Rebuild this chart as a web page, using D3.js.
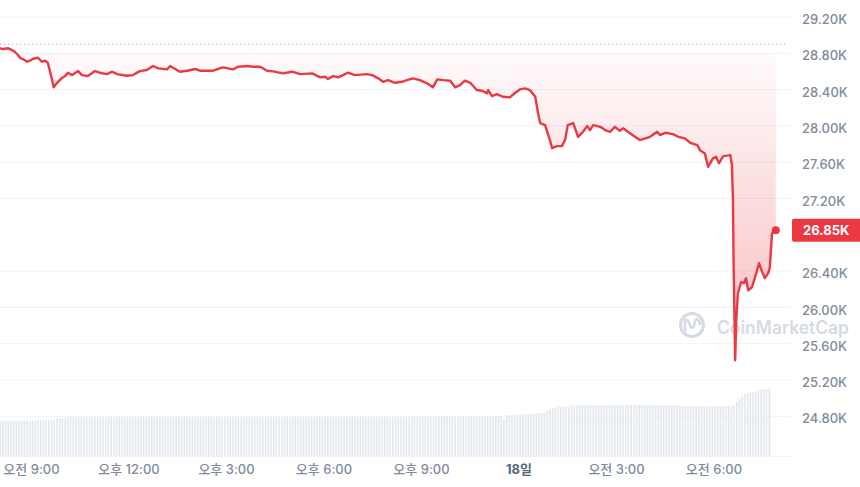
<!DOCTYPE html>
<html>
<head>
<meta charset="utf-8">
<script src="https://cdn.jsdelivr.net/npm/d3@7"></script>
<style>
  html, body { margin: 0; padding: 0; background: #fff; }
  svg { display: block; font-family: Inter, "Noto Sans CJK KR", sans-serif; }
</style>
</head>
<body>
<svg id="chart" width="860" height="487"></svg>
<script>
// ---------- DATA ----------
// price samples: minutes after 2023-08-17 08:00 (KST) and BTC price in USD
const priceMinutes = [3,8,18,25,30,36,40,45,53,58,64,73,80,86,91,99,102,108,117,123,128,136,147,154,165,178,187,200,210,219,237,248,261,274,285,295,311,317,322,335,348,363,372,396,414,433,442,459,470,483,496,507,525,542,557,579,594,603,608,618,627,636,645,658,680,690,701,710,719,732,745,754,765,778,791,802,810,821,834,843,852,861,871,883,893,902,904,911,920,931,944,954,963,972,981,991,996,1000,1009,1018,1022,1031,1040,1046,1051,1061,1070,1079,1087,1092,1098,1111,1120,1129,1138,1147,1153,1162,1175,1184,1194,1203,1216,1221,1231,1245,1255,1267,1277,1290,1295,1304,1310,1319,1325,1330,1338,1345,1351,1354,1356,1357,1360,1362,1365,1371,1376,1380,1384,1391,1399,1404,1410,1415,1421,1424,1428,1435];
const priceValues = [28855,28847,28855,28836,28817,28781,28748,28737,28707,28718,28740,28751,28707,28718,28696,28505,28425,28475,28527,28549,28586,28560,28604,28560,28549,28604,28586,28571,28597,28571,28553,28560,28604,28616,28660,28634,28623,28660,28641,28597,28608,28627,28608,28608,28645,28623,28652,28660,28652,28652,28608,28601,28579,28597,28571,28579,28535,28542,28516,28549,28535,28560,28586,28560,28571,28560,28524,28486,28505,28475,28486,28505,28524,28505,28469,28425,28513,28505,28498,28425,28450,28498,28475,28395,28387,28359,28395,28329,28351,28321,28314,28365,28403,28414,28395,28321,28141,28031,28009,27844,27755,27777,27777,27844,28009,28031,27880,27935,27998,27954,28009,27990,27954,27935,27990,27946,27973,27935,27880,27844,27862,27880,27935,27899,27924,27910,27880,27862,27814,27788,27733,27697,27549,27642,27659,27587,27667,27672,27678,27568,27182,26520,25417,25858,26156,26278,26267,26322,26189,26222,26377,26487,26388,26322,26377,26443,26818,26850];
const openPrice = 28900;      // dotted reference line
const fillBaseline = 28800;   // top of the shaded area

// 24h volume (billions USD), one bar per 5 minutes starting 08:03
const volumeValues = [
  13.0,13.0,13.0,13.0,13.0,13.0,13.0,13.0,13.0,13.0,
  13.0,13.0,13.0,13.0,
  13.3,13.3,13.3,13.3,13.3,13.3,13.3,
  13.9,13.9,13.9,13.9,
  14.4,14.4,14.4,14.4,14.4,14.4,14.4,14.4,14.4,14.4,
  14.4,14.4,14.4,14.4,14.4,14.4,14.4,14.4,14.4,14.4,
  14.4,14.4,14.4,14.4,14.4,14.4,14.4,14.4,14.4,14.4,
  14.4,14.4,14.4,14.4,14.4,14.4,14.4,14.4,14.4,14.4,
  14.4,14.4,14.4,14.4,14.4,14.4,14.4,14.4,14.4,14.4,
  14.4,14.4,14.4,14.4,14.4,14.4,14.4,14.4,14.4,14.4,
  14.4,14.4,14.4,14.4,14.4,14.4,14.4,14.4,14.4,14.4,
  14.4,14.4,14.4,14.4,14.4,14.4,14.4,14.4,14.4,14.4,
  14.4,14.4,14.4,14.4,14.4,14.4,14.4,14.4,14.4,14.4,
  14.4,14.4,14.4,14.4,14.4,14.4,14.4,14.4,14.4,14.4,
  14.4,14.4,14.4,14.4,14.4,14.4,14.4,14.4,14.4,14.4,
  14.4,14.4,14.4,14.4,14.4,14.4,14.4,14.4,14.4,14.4,
  14.4,14.4,14.4,14.4,14.4,14.4,14.4,
  14.7,14.7,14.7,14.7,14.7,14.7,14.7,14.7,14.7,14.7,
  14.7,14.7,14.7,14.7,14.7,14.7,14.7,14.7,14.7,14.7,
  14.7,14.7,14.7,14.7,14.7,14.7,14.7,14.7,14.7,14.7,
  14.7,14.7,14.7,
  14.8,13.3,
  15.2,15.2,15.2,15.2,15.2,
  15.4,15.4,15.4,15.4,15.4,15.4,
  15.9,15.9,15.9,15.9,
  16.7,17.2,17.8,17.8,
  18.3,18.3,18.3,18.3,18.3,
  18.8,18.8,18.8,18.9,18.8,18.8,18.8,18.8,18.8,18.8,
  18.8,18.9,18.8,18.8,18.8,18.8,18.7,18.8,18.8,18.8,
  18.8,18.8,18.8,18.9,18.8,18.8,18.8,18.8,18.7,18.8,
  18.8,18.8,18.8,18.8,18.8,18.9,18.8,18.8,18.8,18.8,
  18.8,
  18.6,18.6,18.6,18.6,18.6,18.6,18.6,
  18.4,18.4,18.4,18.4,18.4,
  18.6,18.6,18.6,18.6,18.6,18.6,18.6,
  18.9,20.0,21.1,22.0,22.9,23.3,23.6,23.8,24.1,24.3,
  24.6,24.8,25.0,25.1
];

const yTicks = [29200,28800,28400,28000,27600,27200,26400,26000,25600,25200,24800];
const xTickTimes = ["2023-08-17T09:00","2023-08-17T12:00","2023-08-17T15:00","2023-08-17T18:00","2023-08-17T21:00","2023-08-18T00:00","2023-08-18T03:00","2023-08-18T06:00"];
const xTickLabels = ["오전 9:00","오후 12:00","오후 3:00","오후 6:00","오후 9:00","18일","오전 3:00","오전 6:00"];

// ---------- SETUP ----------
const RED = "#ea3943";
const AXIS_TEXT = "#808a9d";
const GRID = "#eff2f5";
const t0 = new Date("2023-08-17T08:00");
const toDate = m => new Date(t0.getTime() + m * 60000);
const prices = priceMinutes.map((m, i) => ({ t: toDate(m), v: priceValues[i] }));
const volumes = volumeValues.map((v, i) => ({ t: toDate(3 + 5 * i), v }));

const svg = d3.select("#chart");
const plotRight = 790;
const volBottom = 456;

const x = d3.scaleTime()
  .domain([new Date("2023-08-17T09:00"), new Date("2023-08-18T06:00")])
  .range([31, 713.5]);
const y = d3.scaleLinear().domain([24800, 29200]).range([416.3, 17]);
const yVol = d3.scaleLinear().domain([0, 30]).range([volBottom, 375]);

// gridlines
svg.append("g").selectAll("line").data(yTicks).join("line")
  .attr("x1", 0).attr("x2", plotRight)
  .attr("y1", d => y(d)).attr("y2", d => y(d))
  .attr("stroke", GRID).attr("stroke-width", 1);
svg.append("line").attr("x1", 0).attr("x2", plotRight + 2)
  .attr("y1", volBottom + 0.5).attr("y2", volBottom + 0.5)
  .attr("stroke", GRID);

// volume bars
svg.append("g").selectAll("rect").data(volumes).join("rect")
  .attr("x", d => x(d.t) - 0.8)
  .attr("width", 1.6)
  .attr("y", d => yVol(d.v))
  .attr("height", d => volBottom - yVol(d.v))
  .attr("fill", "#e2e6ed");

// watermark
const wm = svg.append("g").attr("opacity", 0.9);
wm.append("circle").attr("cx", 692).attr("cy", 325).attr("r", 11.5)
  .attr("fill", "none").attr("stroke", "#d2d7df").attr("stroke-width", 3);
wm.append("path")
  .attr("d", "M685,331 L685,322 Q685,318 688,321 L691,327 Q692,329 694,326 L695,321 Q697,317 699,321 L700,324")
  .attr("fill", "none").attr("stroke", "#d2d7df").attr("stroke-width", 2.6)
  .attr("stroke-linecap", "round").attr("stroke-linejoin", "round");
wm.append("text").attr("x", 717).attr("y", 334)
  .attr("font-size", 18).attr("font-weight", 600)
  .attr("textLength", 132).attr("lengthAdjust", "spacingAndGlyphs")
  .attr("fill", "#d2d7df").text("CoinMarketCap");

// gradient fill
const defs = svg.append("defs");
const grad = defs.append("linearGradient").attr("id", "redfade")
  .attr("gradientUnits", "userSpaceOnUse")
  .attr("x1", 0).attr("x2", 0)
  .attr("y1", y(fillBaseline)).attr("y2", y(25400));
grad.append("stop").attr("offset", 0).attr("stop-color", RED).attr("stop-opacity", 0.02);
grad.append("stop").attr("offset", 1).attr("stop-color", RED).attr("stop-opacity", 0.34);
defs.append("clipPath").attr("id", "belowBase").append("rect")
  .attr("x", 0).attr("y", y(fillBaseline)).attr("width", plotRight).attr("height", volBottom - y(fillBaseline));

svg.append("path").datum(prices)
  .attr("clip-path", "url(#belowBase)")
  .attr("fill", "url(#redfade)")
  .attr("d", d3.area().x(d => x(d.t)).y0(y(fillBaseline)).y1(d => y(d.v)));

// dotted open-price line
svg.append("line")
  .attr("x1", 0).attr("x2", plotRight - 2)
  .attr("y1", y(openPrice)).attr("y2", y(openPrice))
  .attr("stroke", "#a6adba").attr("stroke-width", 1.2)
  .attr("stroke-dasharray", "1.3,2.7");

// price line
svg.append("path").datum(prices)
  .attr("fill", "none").attr("stroke", RED).attr("stroke-width", 2.4)
  .attr("stroke-linejoin", "round").attr("stroke-linecap", "round")
  .attr("d", d3.line().x(d => x(d.t)).y(d => y(d.v)));

const last = prices[prices.length - 1];
svg.append("circle").attr("cx", x(last.t)).attr("cy", y(last.v)).attr("r", 4).attr("fill", RED);

// y axis
const fmtK = d => (d / 1000).toFixed(2) + "K";
const yAxis = svg.append("g").attr("transform", "translate(802,2.5)")
  .call(d3.axisRight(y).tickValues(yTicks).tickSize(0).tickPadding(0).tickFormat(fmtK));
yAxis.select(".domain").remove();
yAxis.selectAll("text").attr("fill", AXIS_TEXT).attr("font-size", 13)
  .attr("font-family", "Inter, sans-serif").attr("font-weight", 500);

// current price label
const lastY = y(last.v);
svg.append("rect").attr("x", 792).attr("y", lastY - 11.5).attr("width", 70).attr("height", 23)
  .attr("rx", 2).attr("fill", RED);
svg.append("text").attr("x", 803).attr("y", lastY + 4.8)
  .attr("fill", "#fff").attr("font-size", 13).attr("font-weight", 700)
  .text(fmtK(last.v));

// x axis
const xAxis = svg.append("g").attr("transform", `translate(0,${volBottom})`)
  .call(d3.axisBottom(x).tickValues(xTickTimes.map(s => new Date(s)))
    .tickSize(0).tickPadding(8.3).tickFormat((d, i) => xTickLabels[i]));
xAxis.select(".domain").remove();
xAxis.selectAll("text")
  .attr("font-size", 13)
  .attr("font-family", "Inter, 'Noto Sans CJK KR', sans-serif")
  .attr("fill", (d, i) => xTickLabels[i] === "18일" ? "#58667e" : AXIS_TEXT)
  .attr("font-weight", (d, i) => xTickLabels[i] === "18일" ? 700 : 500);
</script>
</body>
</html>
